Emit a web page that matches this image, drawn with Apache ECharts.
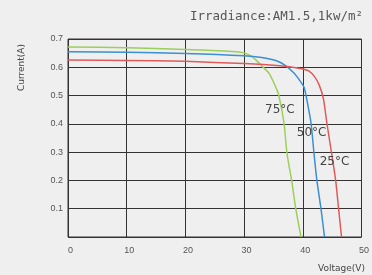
<!DOCTYPE html>
<html>
<head>
<meta charset="utf-8">
<script src="https://cdn.jsdelivr.net/npm/echarts@6/dist/echarts.min.js"></script>
<style>
	html, body { margin: 0; padding: 0; background: #efefef; }
	#chart { width: 372px; height: 275px; }
</style>
</head>
<body>
<div id="chart"></div>
<script>
	// I-V curves at three cell temperatures
	const voltage25 = [0, 10, 20, 30, 35, 38, 40, 41, 42, 42.8, 43.5, 44.1, 44.9, 45.6, 46.1, 46.6]
	const current25 = [0.626, 0.624, 0.621, 0.613, 0.607, 0.601, 0.594, 0.587, 0.567, 0.537, 0.49, 0.403, 0.297, 0.2, 0.1, 0]

	const voltage50 = [0, 10, 20, 30, 33, 35.4, 37, 38.5, 39.5, 40.2, 40.7, 41.4, 41.9, 42.4, 43.1, 43.7]
	const current50 = [0.655, 0.653, 0.649, 0.641, 0.635, 0.624, 0.607, 0.58, 0.553, 0.53, 0.484, 0.403, 0.297, 0.2, 0.1, 0]

	const voltage75 = [0, 10, 20, 28, 30, 31, 32, 33, 34.2, 35.4, 35.9, 36.8, 37.3, 38.1, 38.8, 39.7]
	const current75 = [0.672, 0.669, 0.663, 0.656, 0.651, 0.642, 0.626, 0.605, 0.58, 0.53, 0.502, 0.403, 0.297, 0.2, 0.1, 0]

	const temperatureLabels = ['25°C', '50°C', '75°C']
	const xTicks = [0, 10, 20, 30, 40, 50]
	const yTicks = [0.1, 0.2, 0.3, 0.4, 0.5, 0.6, 0.7]

	const pairs = (xs, ys) => xs.map((x, i) => [x, ys[i]])

	const chart = echarts.init(document.getElementById('chart'))

	const labelStyle = {
		color: '#444',
		fontSize: 12,
		fontFamily: 'DejaVu Sans'
	}

	function curve(name, data, color, labelAt) {
		return {
			name: name,
			type: 'line',
			data: data,
			smooth: 0.25,
			symbol: 'none',
			lineStyle: { color: color, width: 1.5 },
			markPoint: {
				symbolSize: 0,
				label: Object.assign({ show: true, formatter: name }, labelStyle),
				data: [{ coord: labelAt }]
			},
			animation: false
		}
	}

	chart.setOption({
		backgroundColor: '#efefef',
		grid: {
			left: 68,
			right: 9,
			top: 39,
			bottom: 38,
			show: true,
			borderColor: '#333',
			borderWidth: 1
		},
		xAxis: {
			type: 'value',
			min: 0,
			max: 50,
			interval: 10,
			axisLine: { show: false },
			axisTick: { show: false },
			splitLine: { lineStyle: { color: '#333', width: 1 } },
			axisLabel: {
				color: '#555',
				fontSize: 9,
				margin: 9,
				padding: [0, 0, 0, 5],
				formatter: v => xTicks.includes(v) ? String(v) : ''
			}
		},
		yAxis: {
			type: 'value',
			min: 0,
			max: 0.7,
			interval: 0.1,
			axisLine: { show: false },
			axisTick: { show: false },
			splitLine: { lineStyle: { color: '#333', width: 1 } },
			axisLabel: {
				color: '#555',
				fontSize: 9,
				margin: 5,
				formatter: v => {
					const t = yTicks.find(y => Math.abs(y - v) < 1e-6)
					return t ? t.toFixed(1) : ''
				}
			}
		},
		graphic: [
			{
				type: 'text',
				right: 9,
				top: 10,
				style: {
					text: 'Irradiance:AM1.5,1kw/m²',
					fill: '#555',
					font: '12.5px "DejaVu Sans Mono"'
				}
			},
			{
				type: 'text',
				x: 17,
				y: 91,
				rotation: Math.PI / 2,
				style: {
					text: 'Current(A)',
					fill: '#444',
					font: '9px "DejaVu Sans"'
				}
			},
			{
				type: 'text',
				right: 7,
				top: 264,
				style: {
					text: 'Voltage(V)',
					fill: '#444',
					font: '9px "DejaVu Sans"'
				}
			}
		],
		series: [
			curve(temperatureLabels[2], pairs(voltage75, current75), '#9ccf5a', [36.1, 0.449]),
			curve(temperatureLabels[1], pairs(voltage50, current50), '#3b8fd2', [41.5, 0.368]),
			curve(temperatureLabels[0], pairs(voltage25, current25), '#e05a5a', [45.4, 0.265])
		]
	})
</script>
</body>
</html>
